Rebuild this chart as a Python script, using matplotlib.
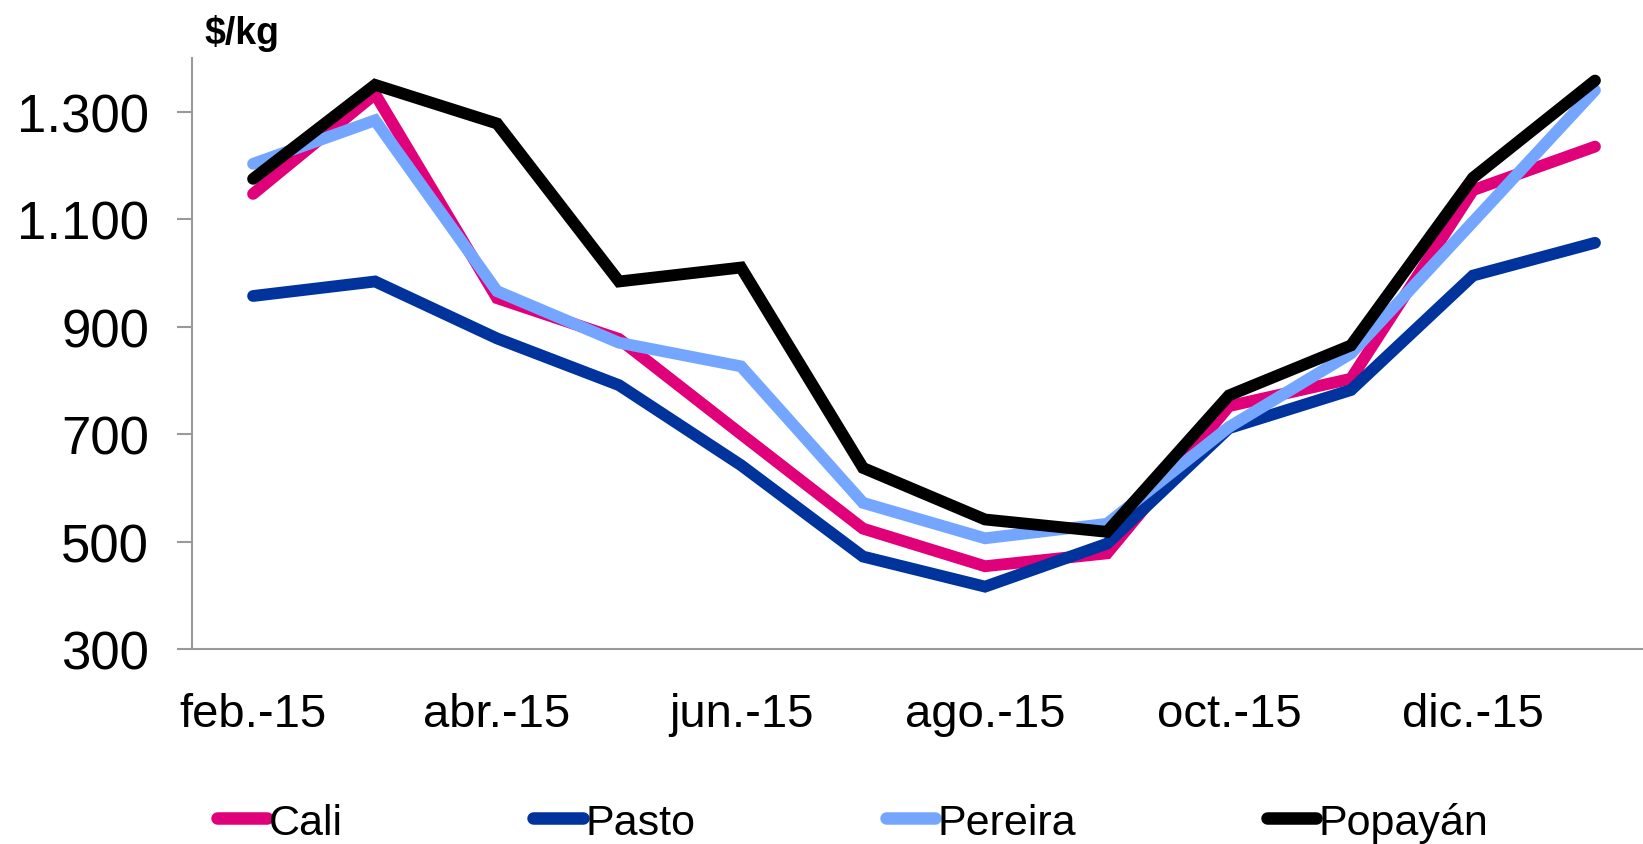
import matplotlib.pyplot as plt
from matplotlib.ticker import FuncFormatter

plt.rcParams['font.family'] = ['Liberation Sans', 'DejaVu Sans']

# ── Data (precio mayorista, $/kg) ────────────────────────────
months = ["feb.-15", "mar.-15", "abr.-15", "may.-15", "jun.-15", "jul.-15",
          "ago.-15", "sep.-15", "oct.-15", "nov.-15", "dic.-15", "ene.-16"]
cali    = [1147, 1333, 953, 877, 700, 524, 454, 478, 752, 803, 1154, 1235]
pasto   = [957, 984, 878, 791, 642, 472, 416, 496, 711, 782, 995, 1056]
pereira = [1203, 1284, 966, 870, 826, 572, 506, 533, 713, 850, 1095, 1340]
popayan = [1175, 1350, 1278, 984, 1010, 637, 541, 518, 772, 865, 1177, 1358]

series = [("Cali", cali, "#E0007A"),
          ("Pasto", pasto, "#00339C"),
          ("Pereira", pereira, "#75A6FF"),
          ("Popayán", popayan, "#000000")]

fig = plt.figure(figsize=(16.43, 8.45), dpi=100)
ax = fig.add_axes([0.1169, 0.2308, 0.891, 0.6994])

x = range(len(months))
for name, vals, col in series:
    ax.plot(x, vals, color=col, linewidth=8.5, label=name,
            solid_joinstyle='miter', solid_capstyle='round')

ax.set_xlim(-0.5, 11.5)
ax.set_ylim(300, 1400)
ax.set_yticks(range(300, 1400, 200))
ax.yaxis.set_major_formatter(FuncFormatter(lambda v, p: f"{v:,.0f}".replace(",", ".")))
ax.set_xticks(list(x)[::2])
ax.set_xticklabels(months[::2])

for s in ["top", "right"]:
    ax.spines[s].set_visible(False)
for s in ["left", "bottom"]:
    ax.spines[s].set_color("#999999")
    ax.spines[s].set_linewidth(1.5)

ax.tick_params(axis='y', direction='out', length=11, width=1.5, color="#999999",
               labelsize=38, pad=20)
ax.tick_params(axis='x', length=0, labelsize=34, pad=31)

fig.text(204 / 1643, 1 - 34 / 845, "$/kg", fontsize=27, fontweight='bold',
         ha='left', va='center')

leg = fig.legend(loc='center', bbox_to_anchor=(0.519, 0.026), ncol=4,
                 frameon=False, fontsize=31, handlelength=1.15,
                 handletextpad=0.05, columnspacing=4.43)
for h in leg.get_lines():
    h.set_linewidth(9)

fig.savefig("out.png", dpi=100)
